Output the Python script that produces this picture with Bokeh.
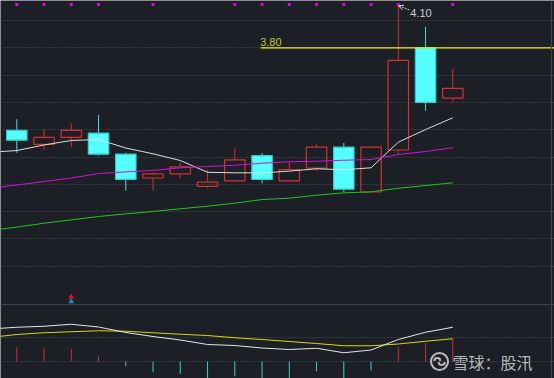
import math
from bokeh.plotting import figure
from bokeh.models import (Range1d, FixedTicker, Grid, Span, Label, Arrow, OpenHead,
                          ColumnDataSource)
from bokeh.core.properties import value
from bokeh.embed import file_html
from bokeh.resources import INLINE

# ---------------- data ----------------
idx = list(range(1, 18))
opens  = [3.21, 3.11, 3.16, 3.19, 3.04, 2.87, 2.90, 2.81, 2.85, 3.03, 2.85, 2.94, 3.09, 2.77, 3.07, 3.80, 3.44]
highs  = [3.29, 3.22, 3.26, 3.32, 3.05, 2.91, 2.98, 2.93, 3.08, 3.05, 2.98, 3.11, 3.12, 3.09, 4.10, 3.95, 3.65]
lows   = [3.05, 3.07, 3.09, 3.03, 2.78, 2.78, 2.87, 2.80, 2.85, 2.83, 2.85, 2.92, 2.77, 2.77, 3.04, 3.35, 3.41]
closes = [3.14, 3.16, 3.21, 3.04, 2.86, 2.90, 2.95, 2.84, 3.00, 2.86, 2.93, 3.09, 2.79, 3.09, 3.71, 3.41, 3.51]

ma_idx = list(range(0, 18))
ma5  = [3.054, 3.066, 3.106, 3.138, 3.145, 3.084, 3.043, 2.995, 2.911, 2.907, 2.907, 2.919, 2.936, 2.929, 2.943, 3.126, 3.216, 3.300]
ma10 = [2.795, 2.820, 2.845, 2.870, 2.902, 2.914, 2.924, 2.943, 2.952, 2.961, 2.976, 2.986, 2.990, 2.997, 3.002, 3.038, 3.059, 3.086]
ma30 = [2.495, 2.519, 2.547, 2.571, 2.595, 2.614, 2.631, 2.650, 2.669, 2.690, 2.716, 2.726, 2.747, 2.764, 2.771, 2.797, 2.816, 2.836]

dif  = [0.130, 0.137, 0.141, 0.149, 0.138, 0.116, 0.100, 0.086, 0.068, 0.064, 0.054, 0.048, 0.053, 0.035, 0.046, 0.088, 0.117, 0.137]
dea  = [0.096, 0.108, 0.115, 0.119, 0.123, 0.121, 0.115, 0.109, 0.104, 0.095, 0.088, 0.080, 0.072, 0.063, 0.063, 0.070, 0.081, 0.091]
macd = [0.057, 0.053, 0.051, 0.021, -0.019, -0.043, -0.049, -0.070, -0.059, -0.070, -0.068, -0.039, -0.072, -0.036, 0.057, 0.075, 0.092]

signal_flags = [1, 1, 1, 1, 0, 1, 0, 0, 1, 1, 1, 1, 1, 1, 1, 0, 1]
icon_idx = [3]

level_value = 3.80
level_label = "3.80"
level_start = 10
max_idx = 15
max_label = "4.10"
watermark = "雪球：股汛"

# ---------------- styling / layout ----------------
BG = "#1c1f26"
GRID = "#4e545e"
RED = "#d2322f"
CYAN_FILL = "#55ffff"
CYAN_LINE = "#3cc9c9"

X0, X1 = 0.402, 20.732
Y0, Y1 = 1.4379, 4.1379
PXX = 554 / (X1 - X0)
PXY = 378 / (Y1 - Y0)

p = figure(width=554, height=378, x_range=Range1d(X0, X1), y_range=Range1d(Y0, Y1),
           output_backend="svg", toolbar_location=None, min_border=0,
           background_fill_color=BG, border_fill_color=BG, outline_line_color=None)
p.xaxis.visible = False
p.yaxis.visible = False
p.xgrid.visible = False
p.ygrid.visible = False
p.extra_y_ranges = {"macd": Range1d(-0.068, 1.444)}

# grids
grid_ticks = [level_value - k * 0.195 for k in range(-1, 9)]
p.add_layout(Grid(dimension=1, ticker=FixedTicker(ticks=grid_ticks),
                  grid_line_color=GRID, grid_line_dash="1 2", grid_line_width=1))
p.add_layout(Grid(dimension=1, ticker=FixedTicker(ticks=[0.0, 0.095]), y_range_name="macd",
                  grid_line_color=GRID, grid_line_dash="1 2", grid_line_width=1))

# panel separator and right border
p.add_layout(Span(location=Y1 - 304 / PXY, dimension="width", line_color="#3c4652", line_width=1))
p.add_layout(Span(location=X0 + 551 / PXX, dimension="height", line_color="#3c4652", line_width=1))

# ---------------- candles ----------------
up = [c >= o for o, c in zip(opens, closes)]
tops = [max(o, c) for o, c in zip(opens, closes)]
bots = [min(o, c) for o, c in zip(opens, closes)]
src = ColumnDataSource(dict(
    x=idx, o=opens, h=highs, l=lows, c=closes, top=tops, bot=bots,
    line=[RED if u else CYAN_LINE for u in up],
    wick=[RED if u else "#46dcdc" for u in up],
    fill=[BG if u else CYAN_FILL for u in up],
    falpha=[0.0 if u else 1.0 for u in up],
))
p.segment(x0="x", y0="h", x1="x", y1="top", source=src, line_color="wick", line_width=1)
p.segment(x0="x", y0="bot", x1="x", y1="l", source=src, line_color="wick", line_width=1)
p.vbar(x="x", width=0.75, top="top", bottom="bot", source=src,
       fill_color="fill", fill_alpha="falpha", line_color="line", line_width=1.2)

# moving averages
p.line(ma_idx, ma5, line_color="#dcdcdc", line_width=1)
p.line(ma_idx, ma10, line_color="#d214d2", line_width=1)
p.line(ma_idx, ma30, line_color="#1ec81e", line_width=1)

# signal dots on top
sig_x = [i for i, f in zip(idx, signal_flags) if f]
p.scatter(sig_x, [Y1 - 4 / PXY] * len(sig_x), marker="square", size=3,
          fill_color="#e000e0", line_color=None)

# small icon
p.scatter(icon_idx, [Y1 - 301 / PXY] * len(icon_idx), marker="triangle", size=6,
          fill_color="#1f82e0", line_color=None)
p.scatter(icon_idx, [Y1 - 296.5 / PXY] * len(icon_idx), marker="triangle", size=6,
          fill_color="#d01818", line_color=None)

# level line 3.80
p.ray(x=[level_start - 0.05], y=[level_value], length=0, angle=0,
      line_color="#f0f020", line_width=1.3)
p.text(x=[level_start - 0.07], y=[level_value], text=[level_label],
       text_font=value("Liberation Sans"), text_font_size="11px", text_color="#c8c814",
       text_baseline="bottom", text_align="left", y_offset=-2)

# max label 4.10
mx_hi = highs[max_idx - 1]
p.text(x=[max_idx], y=[mx_hi], text=[max_label], x_offset=12, y_offset=7,
       text_font=value("Liberation Sans"), text_font_size="11px", text_color="#cfcfcf",
       text_baseline="middle", text_align="left")
p.add_layout(Arrow(end=OpenHead(size=5, line_color="#cfcfcf", line_width=1),
                   x_start=max_idx + 11 / PXX, y_start=mx_hi - 4 / PXY,
                   x_end=max_idx + 0.3 / PXX, y_end=mx_hi,
                   line_color="#cfcfcf", line_width=1, line_dash="2 1"))

# ---------------- MACD panel ----------------
p.line(ma_idx, dea, line_color="#d8d800", line_width=1, y_range_name="macd")
p.line(ma_idx, dif, line_color="#e6e6e6", line_width=1, y_range_name="macd")
p.segment(x0=idx, y0=[0.0] * len(idx), x1=idx, y1=macd, y_range_name="macd",
          line_color=[RED if v >= 0 else "#3ccfcf" for v in macd], line_width=1)

# ---------------- watermark ----------------
lx = X0 + 439 / PXX
ly = Y1 - 361 / PXY
p.scatter([lx], [ly], marker="circle", size=17, fill_alpha=0,
          line_color="#d6d6d6", line_width=2, alpha=0.85)
p.arc(x=[lx - 2.2 / PXX], y=[ly + 0.5 / PXY], radius=3, radius_units="screen",
      start_angle=0, end_angle=math.pi, line_color="#d6d6d6", line_width=2, line_alpha=0.85)
p.arc(x=[lx + 2.2 / PXX], y=[ly - 0.5 / PXY], radius=3, radius_units="screen",
      start_angle=math.pi, end_angle=2 * math.pi, line_color="#d6d6d6", line_width=2, line_alpha=0.85)
p.add_layout(Label(x=452, y=378 - 361, x_units="screen", y_units="screen", text=watermark,
                   text_font="Noto Sans CJK SC", text_font_size="16px",
                   text_color="#d6d6d6", text_alpha=0.85, text_baseline="middle"))

open("out.html", "w").write(file_html(p, INLINE))
